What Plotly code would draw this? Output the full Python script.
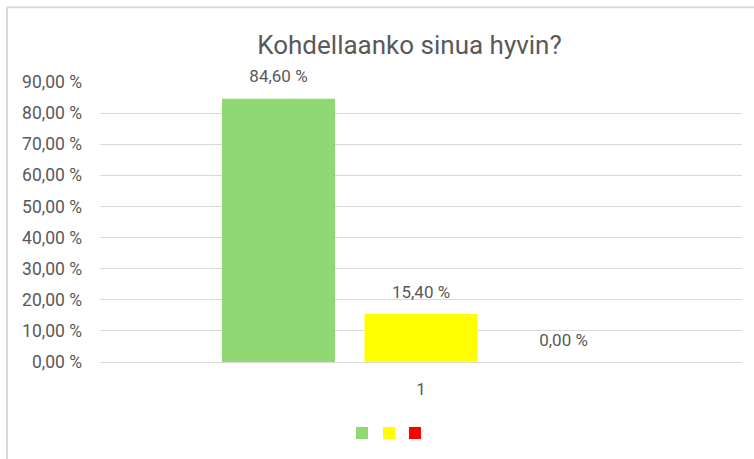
import plotly.graph_objects as go

categories = ["1"]
series_names = ["Kyllä", "Joskus", "Ei"]
series_values = [[84.60], [15.40], [0.00]]
series_colors = ["#8FD873", "#FFFF00", "#FF0000"]
tick_values = [0, 10, 20, 30, 40, 50, 60, 70, 80, 90]
title_text = "Kohdellaanko sinua hyvin?"


def pct(v):
    return f"{v:.2f}".replace(".", ",") + " %"


font_family = "Roboto, Arial, sans-serif"
grey = "#595959"
W, H = 754, 459
BARGAP = 0.334

fig = go.Figure()
legend_ids = ["legend", "legend2", "legend3"]
for i, (name, vals, col, lg) in enumerate(zip(series_names, series_values, series_colors, legend_ids)):
    fig.add_trace(go.Bar(
        x=categories,
        y=vals,
        name=" ",
        legend=lg,
        offsetgroup=f"g{i}",
        marker=dict(color=col, line=dict(width=0)),
        hoverinfo="skip",
    ))
for i, vals in enumerate(series_values):
    fig.add_trace(go.Scatter(
        x=categories,
        y=vals,
        mode="markers+text",
        offsetgroup=f"g{i}",
        marker=dict(size=18, color="rgba(0,0,0,0)"),
        text=[pct(v) for v in vals],
        textposition="top center",
        textfont=dict(family=font_family, size=17, color=grey),
        cliponaxis=False,
        showlegend=False,
        hoverinfo="skip",
    ))

legend_x = [362, 389, 415]


def legend_cfg(px):
    return dict(
        xref="container", yref="container",
        x=(px - 20) / W, xanchor="left",
        y=(H - 433) / H, yanchor="middle",
        orientation="h",
        font=dict(size=1, color="white"),
        bgcolor="rgba(0,0,0,0)",
        itemclick=False, itemdoubleclick=False,
    )


fig.update_layout(
    width=W,
    height=H,
    paper_bgcolor="white",
    plot_bgcolor="white",
    margin=dict(l=100, r=12, t=82, b=97),
    barmode="group",
    bargap=BARGAP,
    bargroupgap=0.207,
    scattermode="group",
    scattergap=BARGAP,
    title=dict(
        text=title_text,
        x=409.5 / W, xanchor="center", xref="container",
        y=1 - 45 / H, yanchor="middle",
        font=dict(family=font_family, size=26, color=grey),
    ),
    font=dict(family=font_family, color=grey),
    showlegend=True,
    legend=legend_cfg(legend_x[0]),
    legend2=legend_cfg(legend_x[1]),
    legend3=legend_cfg(legend_x[2]),
    yaxis=dict(
        range=[0, 90],
        tickvals=tick_values,
        ticktext=[pct(v) for v in tick_values],
        tickfont=dict(family=font_family, size=17.5, color=grey),
        showgrid=True,
        gridcolor="#D9D9D9",
        gridwidth=1,
        zeroline=False,
        showline=False,
        ticks="",
        ticklabelstandoff=17,
        automargin=False,
    ),
    xaxis=dict(
        tickfont=dict(family=font_family, size=17, color=grey),
        showline=True,
        linecolor="#D9D9D9",
        linewidth=1,
        ticks="",
        ticklabelstandoff=12,
        automargin=False,
    ),
    shapes=[
        dict(type="line", xref="paper", yref="paper",
             x0=-93 / 642, x1=1.1, y0=1 + 75 / 280.5, y1=1 + 75 / 280.5,
             line=dict(color="#D9D9D9", width=2)),
        dict(type="line", xref="paper", yref="paper",
             x0=-93 / 642, x1=-93 / 642, y0=1 + 75 / 280.5, y1=-0.5,
             line=dict(color="#D9D9D9", width=2)),
    ],
)

fig.write_html(
    "out.html",
    config={"displayModeBar": False},
    post_script="document.body.style.margin='0';document.body.style.overflow='hidden';",
)
